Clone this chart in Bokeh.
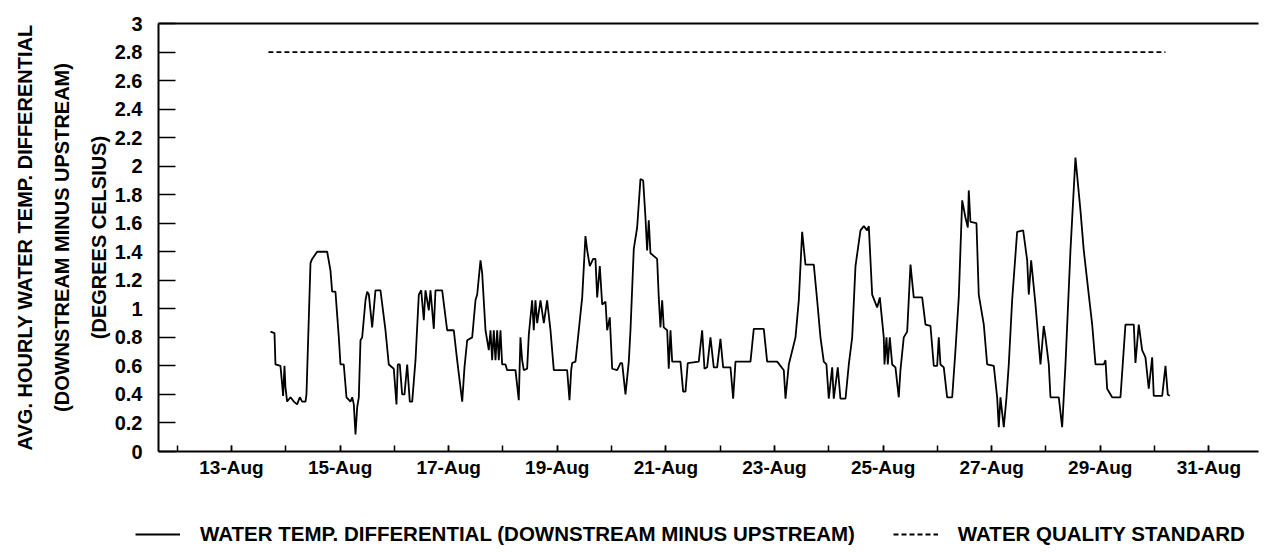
from bokeh.plotting import figure
from bokeh.models import FixedTicker, Legend, LegendItem, LinearAxis, Range1d
from bokeh.embed import file_html
from bokeh.resources import INLINE

# ---- data (x = day of August, y = deg C) ----
day = [
    13.718, 13.792, 13.810, 13.902, 13.933, 13.951, 13.976, 13.994, 14.025, 14.087,
    14.148, 14.209, 14.258, 14.302, 14.363, 14.381, 14.455, 14.486, 14.578, 14.762,
    14.823, 14.854, 14.915, 14.977, 15.007, 15.068, 15.118, 15.192, 15.223, 15.253,
    15.284, 15.315, 15.345, 15.376, 15.407, 15.468, 15.499, 15.530, 15.591, 15.652,
    15.744, 15.836, 15.897, 15.989, 16.039, 16.063, 16.100, 16.143, 16.186, 16.236,
    16.284, 16.328, 16.389, 16.450, 16.494, 16.542, 16.573, 16.634, 16.665, 16.726,
    16.757, 16.880, 16.972, 17.094, 17.156, 17.249, 17.291, 17.341, 17.433, 17.494,
    17.525, 17.586, 17.617, 17.678, 17.739, 17.770, 17.801, 17.831, 17.862, 17.893,
    17.923, 17.954, 17.985, 18.046, 18.077, 18.230, 18.291, 18.322, 18.353, 18.383,
    18.445, 18.476, 18.537, 18.567, 18.598, 18.630, 18.691, 18.752, 18.813, 18.875,
    18.936, 19.182, 19.225, 19.256, 19.274, 19.335, 19.396, 19.459, 19.519, 19.551,
    19.599, 19.661, 19.703, 19.735, 19.783, 19.827, 19.888, 19.919, 19.967, 20.011,
    20.103, 20.164, 20.195, 20.256, 20.317, 20.348, 20.409, 20.471, 20.532, 20.582,
    20.624, 20.655, 20.685, 20.716, 20.839, 20.869, 20.900, 20.932, 20.961, 21.024,
    21.053, 21.085, 21.116, 21.269, 21.318, 21.361, 21.403, 21.606, 21.668, 21.711,
    21.760, 21.821, 21.882, 21.944, 22.005, 22.055, 22.190, 22.239, 22.282, 22.558,
    22.619, 22.803, 22.865, 23.050, 23.172, 23.203, 23.264, 23.387, 23.448, 23.510,
    23.571, 23.724, 23.786, 23.847, 23.908, 23.957, 24.000, 24.063, 24.092, 24.166,
    24.215, 24.308, 24.369, 24.431, 24.492, 24.584, 24.645, 24.707, 24.737, 24.799,
    24.891, 24.940, 25.013, 25.026, 25.063, 25.087, 25.124, 25.168, 25.228, 25.289,
    25.320, 25.381, 25.444, 25.505, 25.565, 25.720, 25.781, 25.873, 25.934, 25.996,
    26.026, 26.057, 26.118, 26.180, 26.273, 26.333, 26.394, 26.457, 26.517, 26.561,
    26.578, 26.609, 26.720, 26.762, 26.855, 26.917, 27.039, 27.101, 27.131, 27.162,
    27.223, 27.273, 27.315, 27.377, 27.469, 27.580, 27.654, 27.683, 27.727, 27.807,
    27.899, 27.959, 27.991, 28.052, 28.083, 28.236, 28.298, 28.359, 28.451, 28.543,
    28.635, 28.696, 28.788, 28.851, 28.912, 29.064, 29.096, 29.127, 29.219, 29.372,
    29.464, 29.617, 29.648, 29.709, 29.771, 29.832, 29.893, 29.956, 29.985, 30.140,
    30.201, 30.243, 30.280,
]
temp_diff = [
    0.84, 0.83, 0.61, 0.60, 0.47, 0.39, 0.60, 0.45, 0.35, 0.38,
    0.35, 0.33, 0.38, 0.35, 0.35, 0.40, 1.32, 1.35, 1.40, 1.40,
    1.27, 1.12, 1.12, 0.80, 0.61, 0.61, 0.38, 0.35, 0.38, 0.33,
    0.12, 0.31, 0.38, 0.78, 0.80, 1.06, 1.12, 1.10, 0.87, 1.13,
    1.13, 0.85, 0.61, 0.58, 0.33, 0.61, 0.61, 0.40, 0.40, 0.61,
    0.35, 0.35, 0.64, 1.10, 1.13, 0.92, 1.13, 0.99, 1.13, 0.86,
    1.13, 1.13, 0.85, 0.85, 0.64, 0.35, 0.59, 0.78, 0.80, 1.06,
    1.10, 1.34, 1.25, 0.85, 0.71, 0.85, 0.64, 0.85, 0.64, 0.85,
    0.64, 0.85, 0.61, 0.61, 0.57, 0.57, 0.36, 0.80, 0.64, 0.57,
    0.58, 0.82, 1.06, 0.85, 1.06, 0.90, 1.06, 0.90, 1.06, 0.85,
    0.57, 0.57, 0.36, 0.57, 0.62, 0.63, 0.85, 1.08, 1.51, 1.41,
    1.30, 1.35, 1.35, 1.08, 1.30, 1.03, 1.05, 0.85, 0.94, 0.58,
    0.57, 0.62, 0.62, 0.40, 0.63, 0.85, 1.42, 1.57, 1.91, 1.90,
    1.64, 1.41, 1.62, 1.39, 1.35, 1.08, 0.87, 1.06, 0.87, 0.85,
    0.58, 0.85, 0.63, 0.63, 0.42, 0.42, 0.62, 0.63, 0.85, 0.58,
    0.59, 0.80, 0.59, 0.59, 0.79, 0.59, 0.59, 0.37, 0.63, 0.63,
    0.86, 0.86, 0.63, 0.63, 0.57, 0.37, 0.61, 0.80, 1.06, 1.54,
    1.31, 1.31, 1.06, 0.80, 0.63, 0.61, 0.37, 0.59, 0.37, 0.59,
    0.37, 0.37, 0.61, 0.80, 1.30, 1.55, 1.58, 1.55, 1.58, 1.10,
    1.01, 1.08, 0.80, 0.61, 0.80, 0.61, 0.80, 0.61, 0.59, 0.38,
    0.57, 0.80, 0.84, 1.31, 1.08, 1.08, 0.89, 0.88, 0.60, 0.60,
    0.80, 0.61, 0.59, 0.38, 0.38, 0.71, 1.08, 1.76, 1.64, 1.57,
    1.83, 1.61, 1.60, 1.10, 0.89, 0.61, 0.60, 0.38, 0.17, 0.38,
    0.17, 0.38, 0.61, 1.06, 1.54, 1.55, 1.34, 1.10, 1.34, 1.03,
    0.61, 0.88, 0.80, 0.61, 0.38, 0.38, 0.17, 0.61, 1.41, 2.06,
    1.69, 1.41, 1.10, 0.89, 0.61, 0.61, 0.64, 0.44, 0.38, 0.38,
    0.89, 0.89, 0.62, 0.89, 0.71, 0.66, 0.44, 0.66, 0.39, 0.39,
    0.60, 0.40, 0.39,
]
assert len(day) == len(temp_diff)

standard_day = [13.68, 30.20]
standard_value = [2.8, 2.8]

x_tick_days = [13, 15, 17, 19, 21, 23, 25, 27, 29, 31]
x_tick_labels = ["13-Aug", "15-Aug", "17-Aug", "19-Aug", "21-Aug",
                 "23-Aug", "25-Aug", "27-Aug", "29-Aug", "31-Aug"]
all_days = [12, 13, 14, 15, 16, 17, 18, 19, 20, 21, 22, 23, 24, 25, 26, 27, 28, 29, 30, 31]
y_ticks = [0, 0.2, 0.4, 0.6, 0.8, 1, 1.2, 1.4, 1.6, 1.8, 2, 2.2, 2.4, 2.6, 2.8, 3]
y_tick_labels = ["0", "0.2", "0.4", "0.6", "0.8", "1", "1.2", "1.4", "1.6", "1.8",
                 "2", "2.2", "2.4", "2.6", "2.8", "3"]

y_title_lines = ["AVG. HOURLY WATER TEMP. DIFFERENTIAL",
                 "(DOWNSTREAM MINUS UPSTREAM)",
                 "(DEGREES CELSIUS)"]
legend_labels = ["WATER TEMP. DIFFERENTIAL (DOWNSTREAM MINUS UPSTREAM)",
                 "WATER QUALITY STANDARD"]

FONT = "Liberation Sans"

p = figure(width=1265, height=505,
           x_range=Range1d(11.656, 31.914), y_range=Range1d(0, 3),
           output_backend="svg", toolbar_location=None,
           min_border_left=158, min_border_right=7,
           min_border_top=23, min_border_bottom=54)
p.xgrid.grid_line_color = None
p.ygrid.grid_line_color = None
p.outline_line_color = None
p.background_fill_color = "white"
p.border_fill_color = "white"

# x axis
xa = p.xaxis[0]
xa.ticker = FixedTicker(ticks=x_tick_days, minor_ticks=all_days)
xa.major_label_overrides = {d: l for d, l in zip(x_tick_days, x_tick_labels)}
xa.axis_line_width = 2
xa.axis_line_color = "black"
xa.major_tick_in = 6
xa.major_tick_out = 0
xa.minor_tick_in = 6
xa.minor_tick_out = 0
xa.major_tick_line_width = 1.5
xa.minor_tick_line_width = 1.5
xa.major_tick_line_color = "black"
xa.minor_tick_line_color = "black"
xa.major_label_standoff = 5
xa.major_label_text_font = FONT
xa.major_label_text_font_style = "bold"
xa.major_label_text_font_size = "19px"
xa.major_label_text_color = "black"

# y axis
ya = p.yaxis[0]
ya.ticker = FixedTicker(ticks=y_ticks)
ya.major_label_overrides = {t: l for t, l in zip(y_ticks, y_tick_labels)}
ya.axis_line_width = 2
ya.axis_line_color = "black"
ya.major_tick_in = 17
ya.major_tick_out = 0
ya.major_tick_line_width = 1.5
ya.major_tick_line_color = "black"
ya.minor_tick_line_color = None
ya.major_label_standoff = 16
ya.major_label_text_font = FONT
ya.major_label_text_font_style = "bold"
ya.major_label_text_font_size = "20px"
ya.major_label_text_color = "black"

# y-axis title: three lines, each carried by a tick-less axis on the left
for txt, standoff in zip(reversed(y_title_lines), [2, 12, 12]):
    ax = LinearAxis(ticker=FixedTicker(ticks=[]), axis_label=txt,
                    axis_label_standoff=standoff,
                    axis_label_text_font=FONT, axis_label_text_font_style="bold",
                    axis_label_text_font_size="20px", axis_label_text_color="black",
                    axis_line_color=None, major_tick_line_color=None,
                    minor_tick_line_color=None, major_tick_out=0, minor_tick_out=0,
                    major_tick_in=0, minor_tick_in=0, major_label_standoff=0)
    p.add_layout(ax, "left")

# top border line
top_axis = LinearAxis(ticker=FixedTicker(ticks=[]), axis_line_width=2,
                      axis_line_color="black", major_tick_line_color=None,
                      minor_tick_line_color=None, major_tick_out=0)
p.add_layout(top_axis, "above")

p.line(day, temp_diff, line_color="black", line_width=1.8)
p.line(standard_day, standard_value, line_color="black",
       line_width=1.8, line_dash="5 3")

# legend strip below the chart (key lines carry the same styles as the series)
nan = float("nan")
lg = figure(width=1265, height=47, output_backend="svg", toolbar_location=None,
            x_axis_type=None, y_axis_type=None,
            min_border_left=0, min_border_right=0, min_border_top=0, min_border_bottom=0)
lg.outline_line_color = None
lg.xgrid.grid_line_color = None
lg.ygrid.grid_line_color = None
lg.border_fill_color = "white"
lg.background_fill_color = "white"
k_data = lg.line(x=[nan], y=[nan], line_color="black", line_width=1.8)
k_std = lg.line(x=[nan], y=[nan], line_color="black", line_width=1.8, line_dash="5 3")
legend = Legend(items=[LegendItem(label=legend_labels[0], renderers=[k_data]),
                       LegendItem(label=legend_labels[1], renderers=[k_std])],
                orientation="horizontal", location=(135, 6),
                glyph_width=45, glyph_height=18, label_height=18,
                label_standoff=20, spacing=38, padding=0, margin=0,
                border_line_color=None, background_fill_alpha=0,
                label_text_font=FONT, label_text_font_style="bold",
                label_text_font_size="20.5px", label_text_color="black")
lg.add_layout(legend)

open("out.html", "w").write(file_html([p, lg], INLINE))
